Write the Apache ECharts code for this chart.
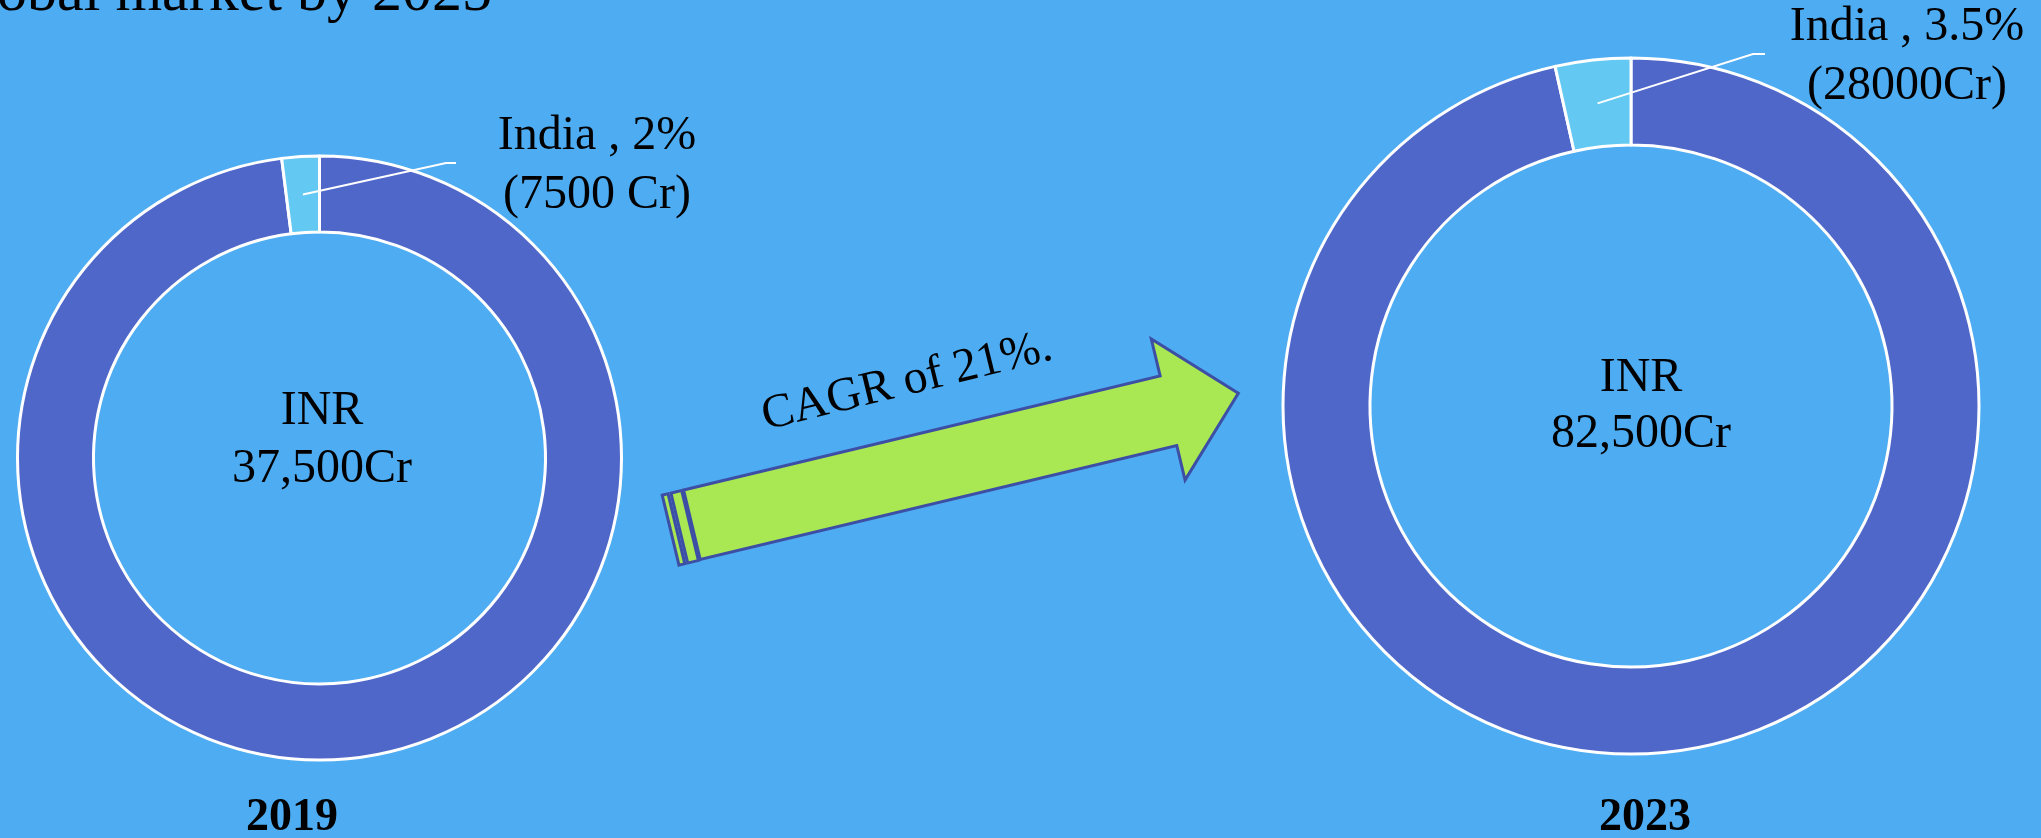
<!DOCTYPE html>
<html>
<head>
<meta charset="utf-8">
<script src="https://cdn.jsdelivr.net/npm/echarts@6.0.0/dist/echarts.min.js"></script>
<style>
  html, body { margin: 0; padding: 0; background: #4EACF2; }
  #chart { width: 2041px; height: 838px; }
</style>
</head>
<body>
<div id="chart"></div>
<script>
// Market size for two years: India's share of the total, shown as donuts
const years = ['2019', '2023'];
const totalLabels = ['37,500Cr', '82,500Cr'];
const indiaShare = [2, 3.5];            // percent of the market
const indiaValueLabels = ['7500 Cr', '28000Cr'];
const currency = 'INR';
const growthText = 'CAGR of 21%.';
const headline = 'global market by 2025';

const FONT = '"Liberation Serif", "Times New Roman", serif';
const RING = '#4F67C9';
const INDIA = '#63C9F2';

// donut placement and where each India callout sits
const donuts = [
  { center: [319.5, 458], radius: [226, 302], label: [597, 166], knee: [446, 163], end: [456, 163] },
  { center: [1631, 406], radius: [261, 348], label: [1907, 57], knee: [1753, 54], end: [1765, 54] }
];

const chart = echarts.init(document.getElementById('chart'), null, { renderer: 'canvas' });

function pieSeries(i) {
  const d = donuts[i];
  const share = indiaShare[i];
  return {
    type: 'pie',
    center: d.center,
    radius: d.radius,
    startAngle: 90,
    clockwise: true,
    avoidLabelOverlap: false,
    silent: true,
    animation: false,
    itemStyle: { borderColor: '#ffffff', borderWidth: 3 },
    label: { show: false },
    labelLine: { show: false },
    data: [
      { name: 'Rest', value: 100 - share, itemStyle: { color: RING } },
      {
        name: 'India',
        value: share,
        itemStyle: { color: INDIA },
        label: {
          show: true,
          position: 'outside',
          formatter: 'India , ' + share + '%\n(' + indiaValueLabels[i] + ')',
          fontFamily: FONT,
          fontSize: 48,
          lineHeight: 59,
          color: '#000000'
        },
        labelLine: { show: false }
      }
    ],
    labelLayout: function (params) {
      if (params.dataIndex !== 1) return {};
      return { x: d.label[0], y: d.label[1], align: 'center', verticalAlign: 'middle' };
    }
  };
}

// leader line from the middle of the India slice (mid-ring) to its callout
function leader(i) {
  const d = donuts[i];
  const total = 100;
  const rest = total - indiaShare[i];
  // slices run clockwise from 12 o'clock; India is last, so it ends at 12 o'clock
  const midFrac = (rest + indiaShare[i] / 2) / total;
  const a = (90 - midFrac * 360) * Math.PI / 180;
  const rMid = (d.radius[0] + d.radius[1]) / 2;
  const start = [d.center[0] + rMid * Math.cos(a), d.center[1] - rMid * Math.sin(a)];
  return {
    type: 'polyline',
    silent: true,
    z: 10,
    shape: { points: [start, d.knee, d.end] },
    style: { stroke: '#ffffff', lineWidth: 2, fill: null }
  };
}

function text(x, y, str, opts) {
  return {
    type: 'text',
    x: x,
    y: y,
    silent: true,
    style: Object.assign({
      text: str,
      font: '48px ' + FONT,
      fill: '#000000',
      align: 'center',
      verticalAlign: 'middle',
      textAlign: 'center',
      textVerticalAlign: 'middle'
    }, opts || {})
  };
}

// growth arrow, drawn in its own frame along the shaft
const arrowStroke = { stroke: '#3D4FA5', lineWidth: 3, fill: '#A9E852' };
const arrow = {
  type: 'group',
  x: 683.6,
  y: 490,
  rotation: 13.46 * Math.PI / 180,
  silent: true,
  children: [
    { type: 'polygon', shape: { points: [[-22, 0], [-16, 0], [-16, 72], [-22, 72]] }, style: arrowStroke },
    { type: 'polygon', shape: { points: [[-13, 0], [-2, 0], [-2, 72], [-13, 72]] }, style: arrowStroke },
    { type: 'polygon', shape: { points: [[0, 0], [490, 0], [490, -38], [562, 35], [490, 107], [490, 71.5], [0, 71.5]] }, style: arrowStroke }
  ]
};

const option = {
  backgroundColor: '#4EACF2',
  animation: false,
  series: [pieSeries(0), pieSeries(1)],
  graphic: [
    text(492, -6, headline, { font: '60px ' + FONT, align: 'right', textAlign: 'right' }),
    text(322, 440, currency + '\n' + totalLabels[0], { lineHeight: 58 }),
    text(1641, 406, currency + '\n' + totalLabels[1], { lineHeight: 56 }),
    leader(0),
    leader(1),
    arrow,
    Object.assign(text(907, 382, growthText, { font: '48px ' + FONT }), { rotation: 13.8 * Math.PI / 180 }),
    text(292, 818, years[0], { font: 'bold 46px ' + FONT }),
    text(1645, 818, years[1], { font: 'bold 46px ' + FONT })
  ]
};

chart.setOption(option);
</script>
</body>
</html>
